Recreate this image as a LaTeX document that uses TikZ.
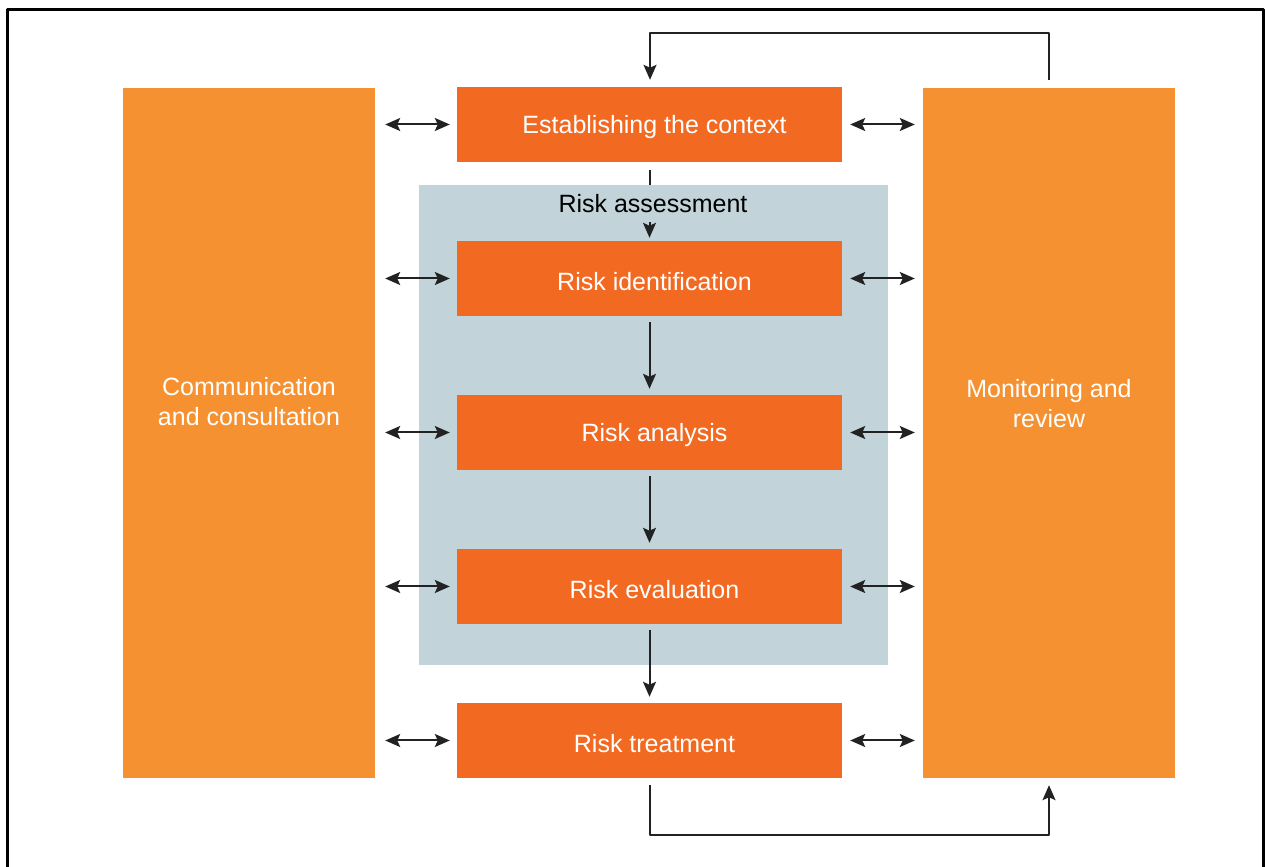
\documentclass[tikz,border=0pt]{standalone}
\usepackage{fontspec}
\setmainfont{Liberation Sans}
\usetikzlibrary{arrows.meta}
\definecolor{stepor}{HTML}{F26A22}
\definecolor{sideor}{HTML}{F59130}
\definecolor{assessbg}{HTML}{C2D4DA}
\definecolor{lineg}{HTML}{222222}
\newcommand{\steptext}[1]{\raisebox{-3bp}[\height][\depth]{\hspace{10bp}#1}}
\tikzset{
  stepbox/.style={fill=stepor,text=white,minimum width=385bp,minimum height=75bp,inner sep=0pt},
  sidebox/.style={fill=sideor,minimum width=252bp,minimum height=690bp,inner sep=0pt},
  sidetext/.style={text=white,align=center},
  flowarr/.style={lineg,line width=2bp,-{Stealth[length=15bp,width=13bp,inset=3bp]}},
  dblarr/.style={lineg,line width=2bp,{Stealth[length=15bp,width=13bp,inset=3bp]}-{Stealth[length=15bp,width=13bp,inset=3bp]}},
}
\begin{document}
\begin{tikzpicture}[font=\fontsize{25bp}{30bp}\selectfont,line join=bevel]
\useasboundingbox (0bp,0bp) rectangle (1265bp,867bp);
\draw [line width=3bp] (7bp,0bp) -- (7bp,857bp) -- (1263bp,857bp) -- (1263bp,0bp);
%%
\node (assess) at (653.5bp,442bp) [fill=assessbg,minimum width=469bp,minimum height=480bp,inner sep=0pt] {};
\node (comm) at (249bp,434bp) [sidebox] {};
  \node (commtext) at (249bp,465bp) [sidetext] {Communication\\and consultation};
\node (mon) at (1049bp,434bp) [sidebox] {};
  \node (montext) at (1049bp,463bp) [sidetext] {Monitoring and\\review};
%%
\node (ctx) at (649.5bp,742.5bp) [stepbox] {\steptext{Establishing the context}};
  \node (ident) at (649.5bp,588.5bp) [stepbox] {\steptext{Risk identification}};
  \node (anal) at (649.5bp,434.5bp) [stepbox] {\steptext{Risk analysis}};
  \node (eval) at (649.5bp,280.5bp) [stepbox] {\steptext{Risk evaluation}};
  \node (treat) at (649.5bp,126.5bp) [stepbox] {\steptext{Risk treatment}};
%%
\draw [flowarr,shorten <=8bp,shorten >=3bp] (ctx) -- (ident);
\node (assesstext) at (653bp,663.5bp) [fill=assessbg,inner sep=0pt,minimum height=37bp] {Risk assessment};
\draw [flowarr,shorten <=6bp,shorten >=6bp] (ident) -- (anal);
\draw [flowarr,shorten <=6bp,shorten >=6bp] (anal) -- (eval);
\draw [flowarr,shorten <=6bp,shorten >=6bp] (eval) -- (treat);
%%
\foreach \s in {ctx,ident,anal,eval,treat} {
  \draw [dblarr,shorten <=10bp,shorten >=7bp] (\s.west -| comm.east) -- (\s.west);
  \draw [dblarr,shorten <=8bp,shorten >=8bp] (\s.east) -- (\s.east -| mon.west);
}
%%
\coordinate (topline) at (650bp,834bp);
\coordinate (botline) at (1049bp,32bp);
\draw [flowarr,shorten <=8bp,shorten >=7bp] (mon.north) |- (topline) -- (topline |- ctx.north);
\draw [flowarr,shorten <=7bp,shorten >=7bp] (treat.south -| topline) |- (botline) -- (mon.south);
%
\end{tikzpicture}
\end{document}
